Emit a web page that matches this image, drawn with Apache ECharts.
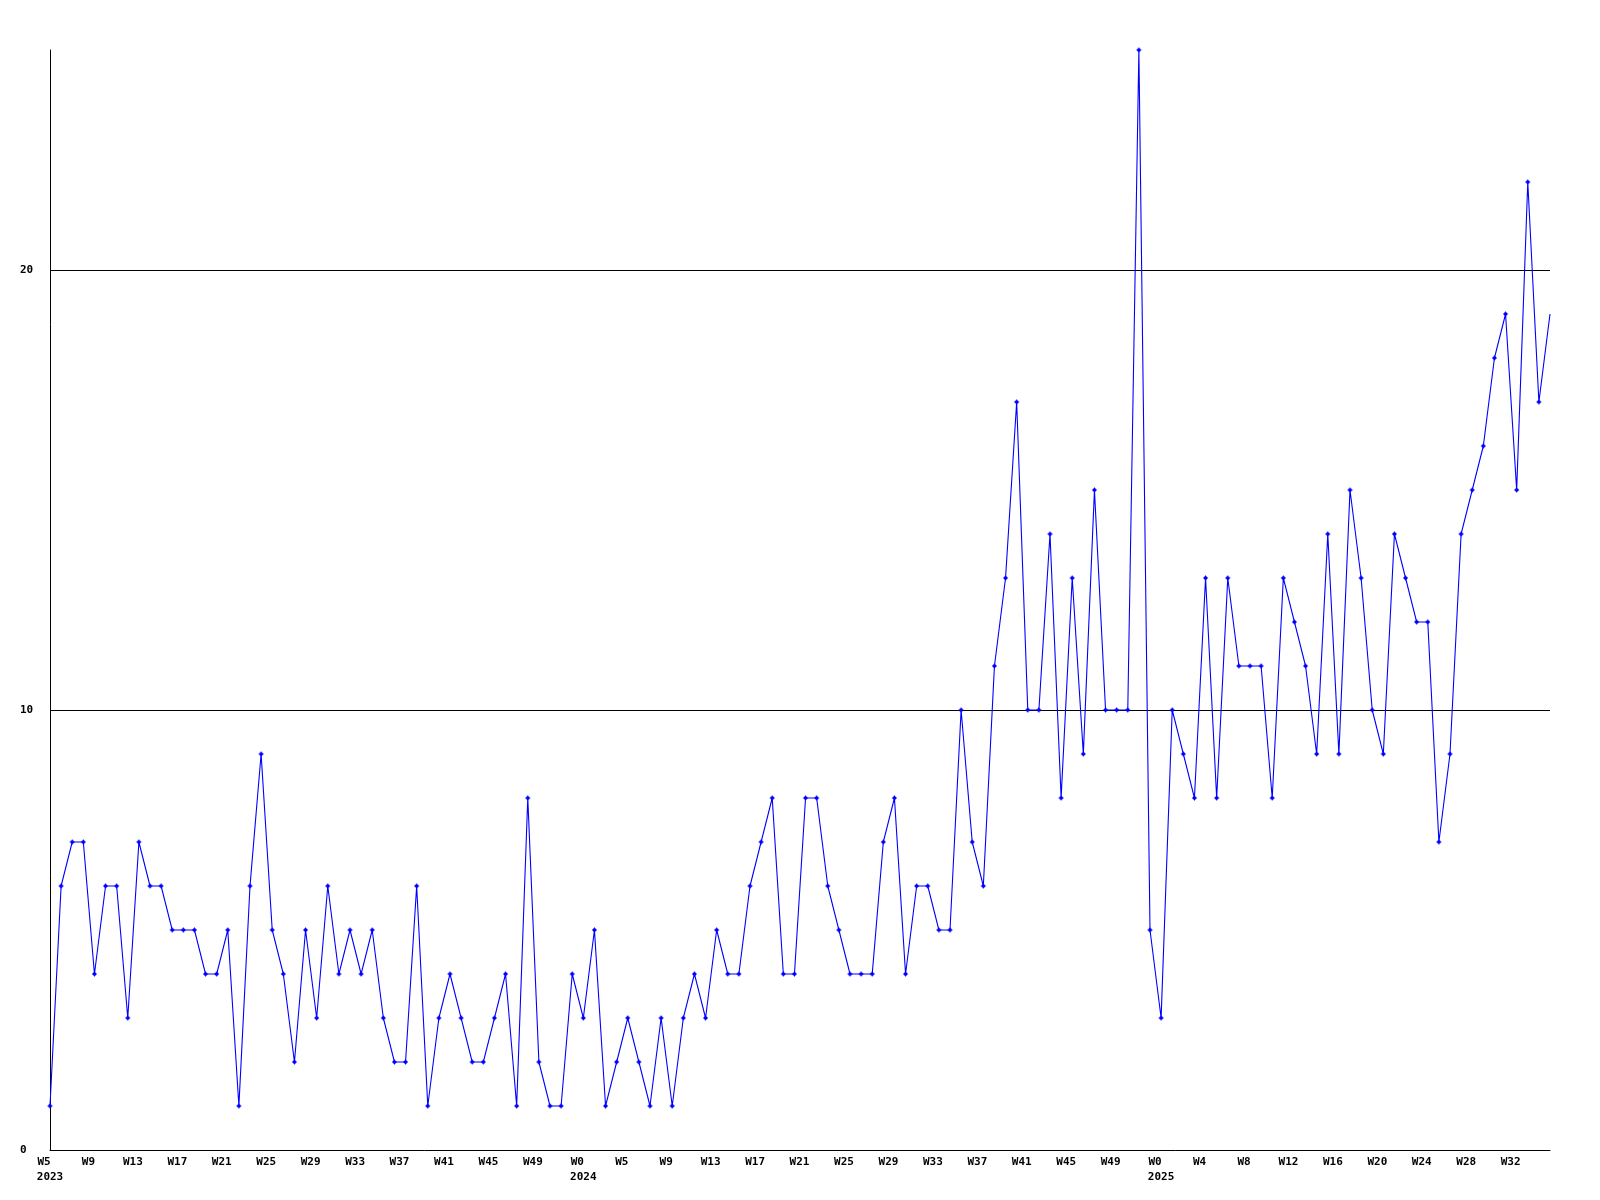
<!DOCTYPE html>
<html>
<head>
<meta charset="utf-8">
<script src="https://cdn.jsdelivr.net/npm/echarts@6/dist/echarts.min.js"></script>
<style>
  html, body { margin: 0; padding: 0; background: #ffffff; }
  #chart { width: 1600px; height: 1200px; }
</style>
</head>
<body>
<div id="chart"></div>
<script>
// Weekly values, 2023 W5 onwards (one per week)
const values = [
  1,6,7,7,4,6,6,3,7,6,6,5,5,5,4,4,5,1,6,9,5,4,2,5,3,6,4,5,4,5,3,2,
  2,6,1,3,4,3,2,2,3,4,1,8,2,1,1,4,3,5,1,2,3,2,1,3,1,3,4,3,5,4,4,6,7,8,
  4,4,8,8,6,5,4,4,4,7,8,4,6,6,5,5,10,7,6,11,13,17,10,10,14,8,13,9,15,10,10,10,25,5,3,10,
  9,8,13,8,13,11,11,11,8,13,12,11,9,14,9,15,13,10,9,14,13,12,12,7,9,14,15,16,18,19,15,22,17,19
];
// Category index for every weekly point
const categories = values.map((_, i) => i);
// Tick labels shown every 4th week
const tickLabels = [
  'W5','W9','W13','W17','W21','W25','W29','W33','W37','W41','W45','W49',
  'W0','W5','W9','W13','W17','W21','W25','W29','W33','W37','W41','W45','W49',
  'W0','W4','W8','W12','W16','W20','W24','W28','W32'
];
const yearLabels = ['2023', '2024', '2025'];
const yearAtPoint = [0, 48, 100];
const yTicks = [0, 10, 20];

const FONT = '"DejaVu Sans Mono", "Liberation Mono", monospace';

const chart = echarts.init(document.getElementById('chart'), null, { renderer: 'canvas' });

const seriesData = values.map((v, i) =>
  i === values.length - 1 ? { value: v, symbol: 'none' } : v
);

chart.setOption({
  animation: false,
  backgroundColor: '#ffffff',
  grid: { left: 50, right: 50, top: 50, bottom: 50, containLabel: false },
  xAxis: {
    type: 'category',
    data: categories,
    boundaryGap: false,
    axisLine: { show: true, lineStyle: { color: '#000000', width: 1 } },
    axisTick: { show: false },
    splitLine: { show: false },
    axisLabel: {
      interval: 3,
      margin: 5,
      color: '#000000',
      fontFamily: FONT,
      fontWeight: 'bold',
      fontSize: 11,
      lineHeight: 15,
      align: 'center',
      formatter: function (value, index) {
        const i = Number(value);
        const t = tickLabels[Math.floor(i / 4)] || '';
        const y = yearAtPoint.indexOf(i);
        let s = '{w|' + t + '}';
        if (y >= 0) s += '\n{y|' + yearLabels[y] + '}';
        return s;
      },
      rich: {
        w: { fontFamily: FONT, fontWeight: 'bold', fontSize: 11, lineHeight: 15, color: '#000000', padding: [0, 12, 0, 0] },
        y: { fontFamily: FONT, fontWeight: 'bold', fontSize: 11, lineHeight: 15, color: '#000000' }
      }
    }
  },
  yAxis: {
    type: 'value',
    min: 0,
    max: 25,
    interval: 10,
    axisLine: { show: true, lineStyle: { color: '#000000', width: 1 } },
    axisTick: { show: false },
    splitLine: {
      show: true,
      showMinLine: false,
      showMaxLine: false,
      lineStyle: { color: '#000000', width: 1 }
    },
    axisLabel: {
      showMaxLabel: false,
      align: 'left',
      margin: 30,
      color: '#000000',
      fontFamily: FONT,
      fontWeight: 'bold',
      fontSize: 11,
      formatter: function (v) { return yTicks.indexOf(v) >= 0 ? String(v) : ''; }
    }
  },
  series: [{
    type: 'line',
    data: seriesData,
    showSymbol: true,
    showAllSymbol: true,
    symbol: 'path://M2,0H3V1H4V2H5V3H4V4H3V5H2V4H1V3H0V2H1V1H2Z',
    symbolSize: 5,
    itemStyle: { color: '#0000ff', borderWidth: 0 },
    lineStyle: { color: '#0000ff', width: 1.1 },
    emphasis: { disabled: true }
  }]
});
</script>
</body>
</html>
